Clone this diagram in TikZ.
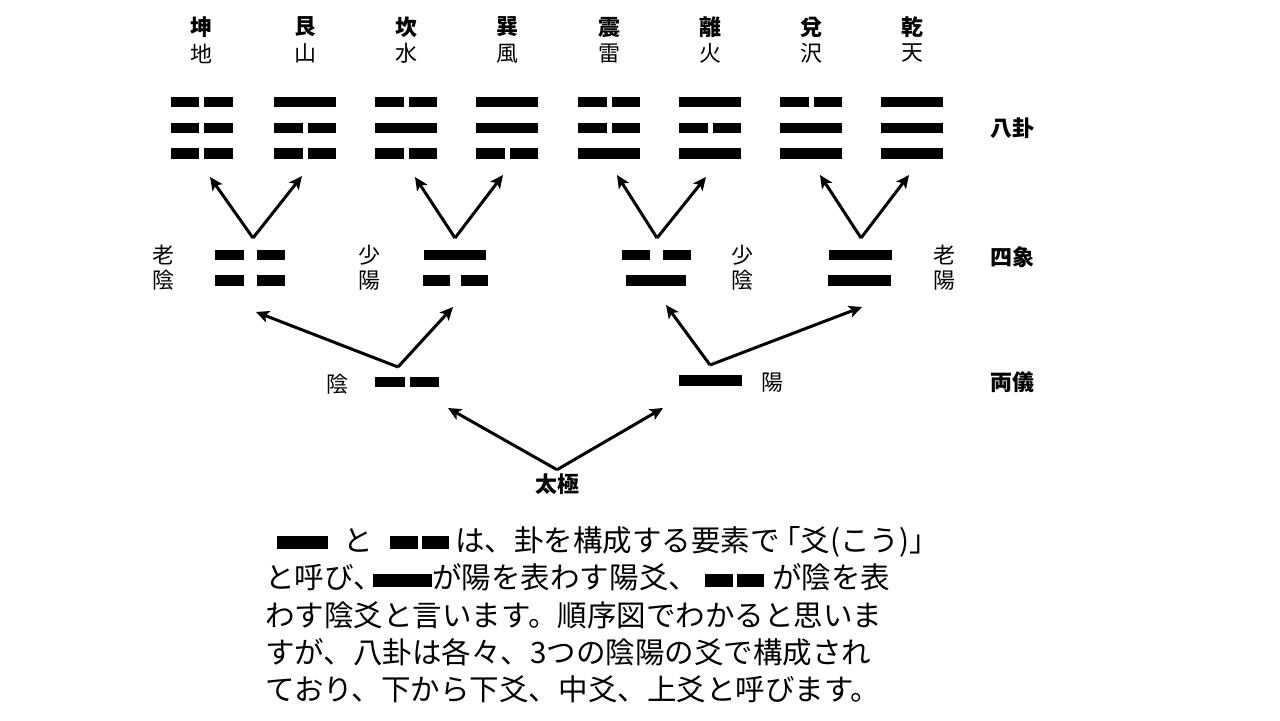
\documentclass[tikz,border=0pt]{standalone}
\usepackage{fontspec}
\setmainfont{Noto Sans CJK JP}
\usetikzlibrary{arrows.meta}
\newcommand{\yaoyang}[3]{\fill (#1-#3/2,#2-5.25) rectangle (#1+#3/2,#2+5.25);}
\newcommand{\yaoyin}[4]{\fill (#1-#3/2,#2-5.25) rectangle (#1-#4/2,#2+5.25);
  \fill (#1+#4/2,#2-5.25) rectangle (#1+#3/2,#2+5.25);}
\newcommand{\yangsym}[1]{\rule[0.04cm]{#1}{0.26cm}}
\newcommand{\yinsym}{\rule[0.04cm]{0.56cm}{0.26cm}\hspace{0.08cm}\rule[0.04cm]{0.54cm}{0.26cm}}
\tikzset{
  lbl/.style={inner sep=0pt,font=\fontsize{12.5pt}{14.2pt}\selectfont},
  lblb/.style={inner sep=0pt,font=\fontsize{12.5pt}{14.2pt}\selectfont\bfseries},
  conn/.style={-{Stealth[length=0.26cm,width=0.24cm,inset=0.06cm]},line width=0.06cm},
  txt/.style={anchor=base west,inner sep=0pt,font=\fontsize{16.8pt}{20pt}\selectfont}
}

\begin{document}
\begin{tikzpicture}[x=0.02cm,y=-0.02cm]
\useasboundingbox (0,0) rectangle (1280,720);
\node[lblb] (kun) at (201.5,27) {坤};
\node[lbl] (kun-sym) at (201.5,53.5) {地};
\node[lblb] (gen) at (305,27) {艮};
\node[lbl] (gen-sym) at (305,53.5) {山};
\node[lblb] (kan) at (406,27) {坎};
\node[lbl] (kan-sym) at (406,53.5) {水};
\node[lblb] (xun) at (507,27) {巽};
\node[lbl] (xun-sym) at (507,53.5) {風};
\node[lblb] (zhen) at (609,27) {震};
\node[lbl] (zhen-sym) at (609,53.5) {雷};
\node[lblb] (li) at (710,27) {離};
\node[lbl] (li-sym) at (710,53.5) {火};
\node[lblb] (dui) at (811,27) {兌};
\node[lbl] (dui-sym) at (811,53.5) {沢};
\node[lblb] (qian) at (912,27) {乾};
\node[lbl] (qian-sym) at (912,53.5) {天};
\yaoyin{201.5}{102}{62}{5} \yaoyin{201.5}{128}{62}{5} \yaoyin{201.5}{153.5}{62}{5}
\yaoyang{305}{102}{62} \yaoyin{305}{128}{62}{5} \yaoyin{305}{153.5}{62}{5}
\yaoyin{406}{102}{62}{5} \yaoyang{406}{128}{62} \yaoyin{406}{153.5}{62}{5}
\yaoyang{507}{102}{62} \yaoyang{507}{128}{62} \yaoyin{507}{153.5}{62}{5}
\yaoyin{609}{102}{62}{5} \yaoyin{609}{128}{62}{5} \yaoyang{609}{153.5}{62}
\yaoyang{710}{102}{62} \yaoyin{710}{128}{62}{5} \yaoyang{710}{153.5}{62}
\yaoyin{811}{102}{62}{5} \yaoyang{811}{128}{62} \yaoyang{811}{153.5}{62}
\yaoyang{912}{102}{62} \yaoyang{912}{128}{62} \yaoyang{912}{153.5}{62}
\node[lblb] (bagua) at (1012,128) {八卦};
\coordinate (kun-in) at (210,177);
\coordinate (gen-in) at (302,176);
\coordinate (kan-in) at (415,177);
\coordinate (xun-in) at (503,175);
\coordinate (zhen-in) at (617,175);
\coordinate (li-in) at (706,177);
\coordinate (dui-in) at (820,175);
\coordinate (qian-in) at (909,175);
\yaoyin{250}{255}{70}{13} \yaoyin{250}{280.5}{70}{13}
\yaoyang{455}{255}{62} \yaoyin{455.5}{280.5}{65}{11}
\yaoyin{656.5}{255}{69}{13} \yaoyang{656}{280.5}{60}
\yaoyang{860}{255}{63} \yaoyang{859.5}{280.5}{63}
\node[lbl,align=center] (laoyin) at (163,267.5) {老\\陰};
\node[lbl,align=center] (shaoyang) at (369,267.5) {少\\陽};
\node[lbl,align=center] (shaoyin) at (742,267.5) {少\\陰};
\node[lbl,align=center] (laoyang) at (944,267.5) {老\\陽};
\node[lblb] (sixiang) at (1012,257) {四象};
\coordinate (laoyin-top) at (253,238);
\coordinate (shaoyang-top) at (455,238);
\coordinate (shaoyin-top) at (657,238);
\coordinate (laoyang-top) at (861,238);
\coordinate (laoyin-in) at (256,312);
\coordinate (shaoyang-in) at (453,307);
\coordinate (shaoyin-in) at (666,305);
\coordinate (laoyang-in) at (862,307);
\yaoyin{407}{382}{64}{5}
\yaoyang{710}{380.5}{63}
\node[lbl] (yin) at (337,384) {陰};
\node[lbl] (yang) at (772,383) {陽};
\node[lblb] (liangyi) at (1012,382) {両儀};
\coordinate (yin-top) at (398,367);
\coordinate (yang-top) at (710,365);
\coordinate (yin-in) at (448,408);
\coordinate (yang-in) at (663,408);
\node[lblb,inner sep=2pt] (taiji) at (557,484) {太極};
\draw[conn] (laoyin-top) -- (kun-in);
\draw[conn] (laoyin-top) -- (gen-in);
\draw[conn] (shaoyang-top) -- (kan-in);
\draw[conn] (shaoyang-top) -- (xun-in);
\draw[conn] (shaoyin-top) -- (zhen-in);
\draw[conn] (shaoyin-top) -- (li-in);
\draw[conn] (laoyang-top) -- (dui-in);
\draw[conn] (laoyang-top) -- (qian-in);
\draw[conn] (yin-top) -- (laoyin-in);
\draw[conn] (yin-top) -- (shaoyang-in);
\draw[conn] (yang-top) -- (shaoyin-in);
\draw[conn] (yang-top) -- (laoyang-in);
\draw[conn] (taiji.north) -- (yin-in);
\draw[conn] (taiji.north) -- (yang-in);
\node[txt] (line1) at (265,551) {\hspace{0.24cm}\yangsym{1.02cm}\hspace{0.3cm}と\hspace{0.35cm}\yinsym\hspace{0.12cm}は、卦を構成する要素で\hspace{-0.3em}「爻(こう)」};
\node[txt] (line2) at (265,588.5) {と呼び、\hspace{-0.2cm}\yangsym{1.18cm}が陽を表わす陽爻、\hspace{0.14cm}\yinsym\hspace{0.16cm}が陰を表};
\node[txt] (line3) at (265,626) {わす陰爻と言います。順序図でわかると思いま};
\node[txt] (line4) at (265,663) {すが、八卦は各々、3つの陰陽の爻で構成され};
\node[txt] (line5) at (265,700.5) {ており、下から下爻、中爻、上爻と呼びます。};
\end{tikzpicture}
\end{document}
